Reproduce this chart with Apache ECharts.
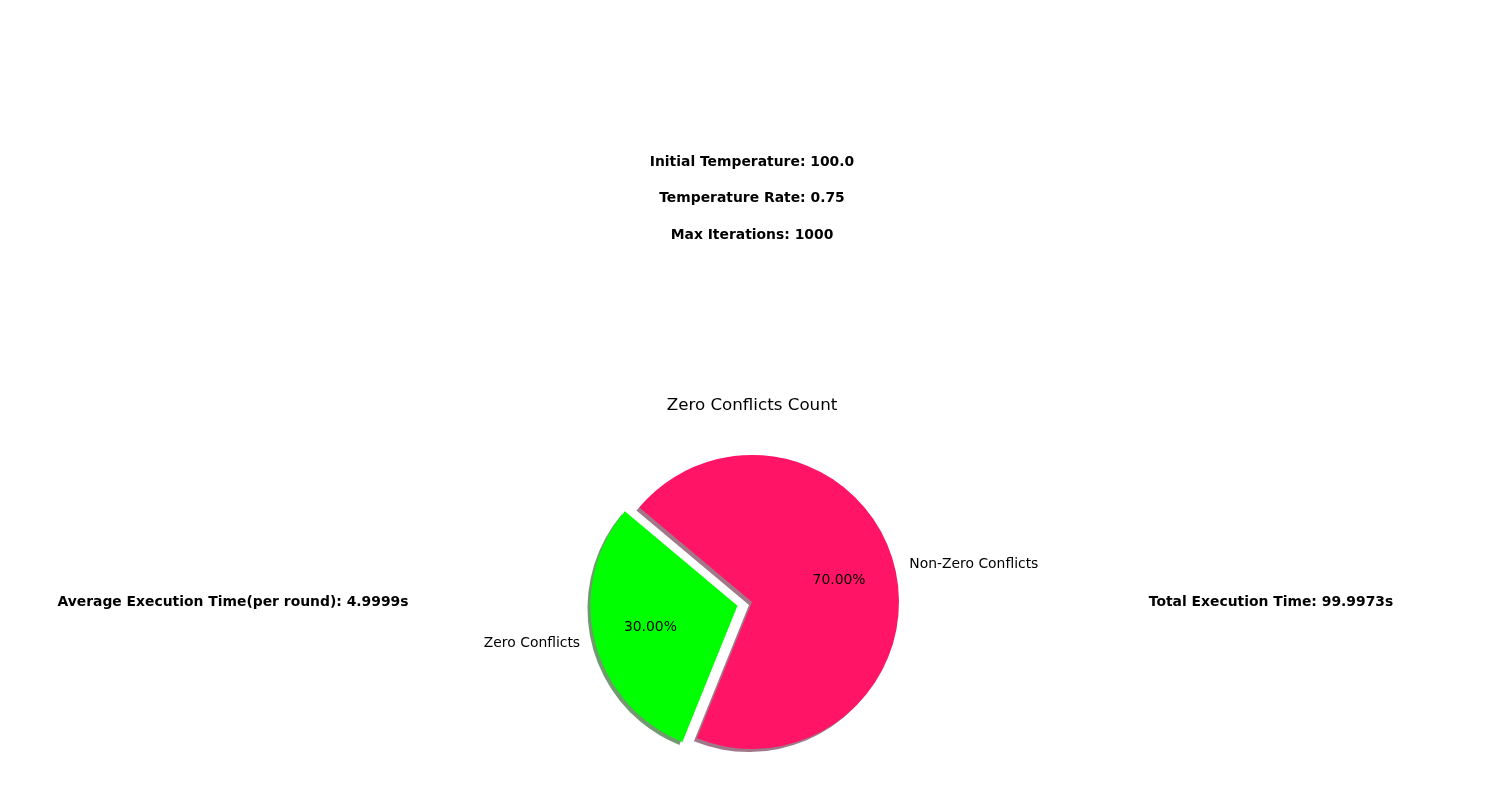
<!DOCTYPE html>
<html>
<head>
<meta charset="utf-8">
<script src="https://cdn.jsdelivr.net/npm/echarts@6/dist/echarts.min.js"></script>
<style>html,body{margin:0;padding:0;background:#fff}#c{width:1500px;height:800px}</style>
</head>
<body>
<div id="c"></div>
<script>
const categories = ['Zero Conflicts', 'Non-Zero Conflicts'];
const counts = [6, 14];
const colors = ['#00ff00', '#ff1466'];
const shadowColors = ['#6f9b6f', '#a07888'];
const paramTexts = ['Initial Temperature: 100.0', 'Temperature Rate: 0.75', 'Max Iterations: 1000'];
const avgText = 'Average Execution Time(per round): 4.9999s';
const totalText = 'Total Execution Time: 99.9973s';
const chartTitle = 'Zero Conflicts Count';

const R = 147, CX = 752, CY = 602, OFF = 15;
const font = 'DejaVu Sans';

function mk(colorArr) {
  return categories.map((c, i) => ({
    name: c, value: counts[i], selected: i === 0,
    itemStyle: { color: colorArr ? colorArr[i] : 'rgba(0,0,0,0)' }
  }));
}

const boldStyle = { fontFamily: font, fontWeight: 'bold', fontSize: 13.9, color: '#000' };
const titles = [];
paramTexts.forEach((t, i) => {
  titles.push({ text: t, left: 752, textAlign: 'center', top: [161, 197, 234][i] - 6, padding: 0, textStyle: boldStyle });
});
titles.push({ text: chartTitle, left: 752, textAlign: 'center', top: 404 - 7, padding: 0,
  textStyle: { fontFamily: font, fontWeight: 'normal', fontSize: 16.7, color: '#000' } });
titles.push({ text: avgText, left: 233, top: 601 - 6, padding: 0, textAlign: 'center', textStyle: boldStyle });
titles.push({ text: totalText, left: 1271, top: 601 - 6, padding: 0, textAlign: 'center', textStyle: boldStyle });

const common = {
  type: 'pie', clockwise: false, startAngle: 140, center: [CX, CY],
  selectedMode: 'single', selectedOffset: OFF, animation: false, silent: true,
  emphasis: { disabled: true }, avoidLabelOverlap: false
};

const option = {
  backgroundColor: '#fff',
  title: titles,
  series: [
    Object.assign({}, common, {
      name: 'shadow', center: [CX - 3, CY + 3], radius: [0, R],
      data: mk(shadowColors), label: { show: false }, labelLine: { show: false }
    }),
    Object.assign({}, common, {
      name: 'pie', radius: [0, R],
      data: mk(colors),
      label: { show: true, position: 'outside', fontFamily: font, fontSize: 13.9, color: '#000',
        formatter: '{b}' },
      labelLine: { show: false, length: 10, length2: 0 }
    }),
    Object.assign({}, common, {
      name: 'pct', radius: [0, R * 1.18],
      data: mk(null),
      label: { show: true, position: 'inside', fontFamily: font, fontSize: 13.9, color: '#000',
        formatter: p => p.percent.toFixed(2) + '%' },
      labelLine: { show: false }
    })
  ]
};

const chart = echarts.init(document.getElementById('c'), null, { renderer: 'canvas' });
chart.setOption(option);
</script>
</body>
</html>
